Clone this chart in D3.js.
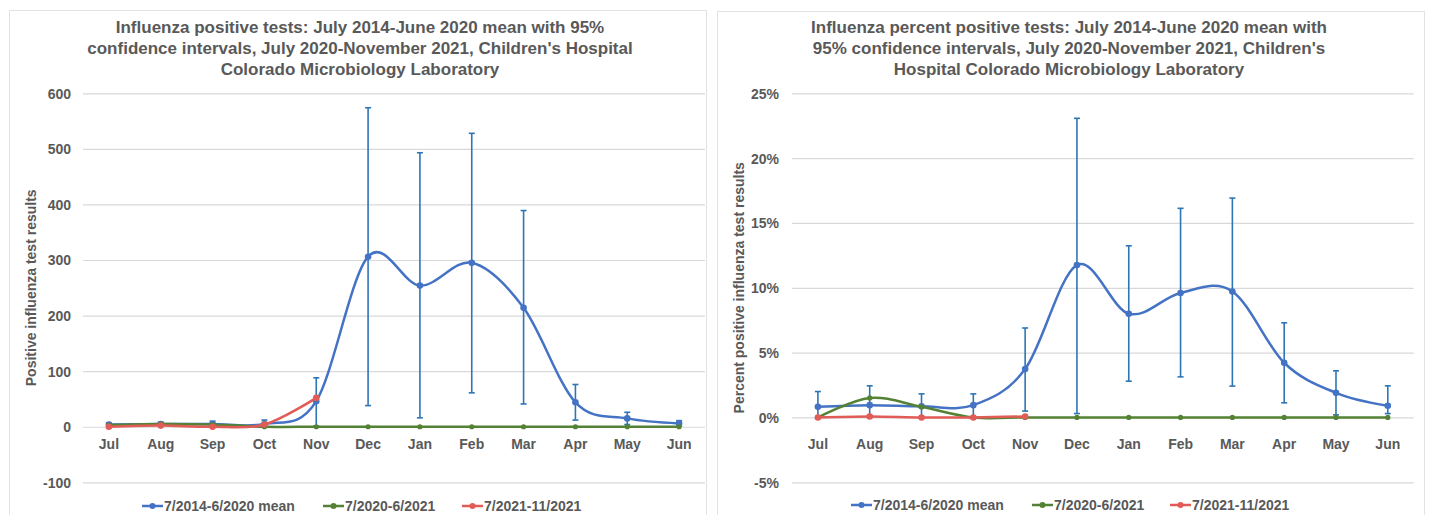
<!DOCTYPE html>
<html>
<head>
<meta charset="utf-8">
<script src="https://cdn.jsdelivr.net/npm/d3@7"></script>
<style>
  html, body { margin: 0; padding: 0; background: #fff; }
  svg { display: block; }
  text { font-family: "Liberation Sans", Arial, sans-serif; font-weight: bold; fill: #595959; }
</style>
</head>
<body>
<svg id="chart" width="1432" height="515"></svg>
<script>
// ---------- DATA ----------
const months = ["Jul","Aug","Sep","Oct","Nov","Dec","Jan","Feb","Mar","Apr","May","Jun"];
const seriesNames = ["7/2014-6/2020 mean","7/2020-6/2021","7/2021-11/2021"];

// Left chart: positive test counts
const countTicks = [-100, 0, 100, 200, 300, 400, 500, 600];
const countMean  = [4, 5, 5, 5, 46, 306, 254, 295, 214, 44, 15, 6];
const countUpper = [7, 8, 10, 12, 88, 574, 493, 528, 389, 76, 26, 11];
const countLower = [1, 2, 0, 0, 1, 38, 16, 61, 41, 12, 4, 1];
const count2020  = [3, 5, 4, 0, 0, 0, 0, 0, 0, 0, 0, 0];
const count2021  = [0, 2, 0, 4, 52];

// Right chart: percent positive (%)
const pctTicks = [-5, 0, 5, 10, 15, 20, 25];
const pctMean  = [0.82, 0.95, 0.87, 0.95, 3.73, 11.75, 8.0, 9.6, 9.72, 4.22, 1.9, 0.9];
const pctUpper = [2.0, 2.44, 1.82, 1.82, 6.9, 23.07, 13.24, 16.13, 16.92, 7.3, 3.6, 2.44];
const pctLower = [0, 0.05, 0, 0, 0.49, 0.3, 2.8, 3.13, 2.42, 1.13, 0.2, 0.3];
const pct2020  = [0, 1.51, 0.82, 0, 0, 0, 0, 0, 0, 0, 0, 0];
const pct2021  = [0, 0.08, 0, 0, 0.08];

// ---------- STYLE ----------
const colors = ["#4472C4", "#548235", "#E15B57"];
const errColor = "#2E75B6";
const gridColor = "#D9D9D9";

const svg = d3.select("#chart");

function drawChart(cfg) {
  const g = svg.append("g");
  // panel border
  g.append("rect")
    .attr("x", cfg.panel[0] + 0.5).attr("y", cfg.panel[1] + 0.5)
    .attr("width", cfg.panel[2] - cfg.panel[0]).attr("height", 600)
    .attr("fill", "none").attr("stroke", "#E3E3E3").attr("stroke-width", 1);

  const x = d3.scaleBand().domain(months).range([cfg.plotX0, cfg.plotX1]);
  const y = d3.scaleLinear().domain(cfg.domain).range([cfg.plotYBottom, cfg.plotYTop]);
  const cx = m => x(m) + x.bandwidth() / 2;

  // title
  const title = g.append("text")
    .attr("text-anchor", "middle")
    .style("font-size", "17px");
  cfg.title.forEach((line, i) => {
    title.append("tspan").attr("x", cfg.titleX).attr("y", 33 + i * 21).text(line);
  });

  // gridlines + y tick labels via axis
  const yAxis = d3.axisLeft(y).tickValues(cfg.ticks).tickSize(0).tickPadding(0)
    .tickFormat(cfg.fmt);
  const ya = g.append("g").attr("transform", `translate(${cfg.tickLabelX},0)`).call(yAxis);
  ya.select(".domain").remove();
  ya.selectAll("text").attr("fill", "#595959").style("font-size", "14px")
    .style("font-family", '"Liberation Sans", Arial, sans-serif').style("font-weight", "bold")
    .attr("dy", "0.35em");

  const grid = d3.axisLeft(y).tickValues(cfg.ticks).tickSize(-(cfg.plotX1 - cfg.plotX0)).tickFormat("");
  const gg = g.append("g").attr("transform", `translate(${cfg.plotX0},0)`).call(grid);
  gg.select(".domain").remove();
  gg.selectAll("line").attr("stroke", gridColor).attr("stroke-width", 1.2);

  // x labels via axis
  const xAxis = d3.axisBottom(x).tickSize(0).tickPadding(0);
  const xa = g.append("g").attr("transform", `translate(0,${cfg.xLabelY})`).call(xAxis);
  xa.select(".domain").remove();
  xa.selectAll("text").attr("fill", "#595959").style("font-size", "14px")
    .style("font-family", '"Liberation Sans", Arial, sans-serif').style("font-weight", "bold")
    .attr("dy", "0");

  // y axis title
  g.append("text")
    .attr("transform", `translate(${cfg.yTitleX},${(cfg.plotYTop + y(cfg.domain[0])) / 2}) rotate(-90)`)
    .attr("text-anchor", "middle").attr("dy", "0.35em")
    .style("font-size", "14px")
    .text(cfg.yTitle);

  const line = d3.line()
    .x((d, i) => cx(months[i]))
    .y(d => y(d))
    .curve(d3.curveCatmullRom.alpha(0));

  // blue mean line
  g.append("path").datum(cfg.mean).attr("d", line)
    .attr("fill", "none").attr("stroke", colors[0]).attr("stroke-width", 2.5);

  // error bars
  const eb = g.append("g");
  months.forEach((m, i) => {
    const px = cx(m);
    eb.append("line").attr("x1", px).attr("x2", px)
      .attr("y1", y(cfg.upper[i])).attr("y2", y(cfg.lower[i]))
      .attr("stroke", errColor).attr("stroke-width", 1.6);
    [cfg.upper[i], cfg.lower[i]].forEach(v => {
      eb.append("line").attr("x1", px - 3).attr("x2", px + 3)
        .attr("y1", y(v)).attr("y2", y(v))
        .attr("stroke", errColor).attr("stroke-width", 1.6);
    });
  });

  g.selectAll(".m0").data(cfg.mean).join("circle")
    .attr("cx", (d, i) => cx(months[i])).attr("cy", d => y(d))
    .attr("r", 3.3).attr("fill", colors[0]);

  // green
  g.append("path").datum(cfg.s2020).attr("d", line)
    .attr("fill", "none").attr("stroke", colors[1]).attr("stroke-width", 2.5);
  g.selectAll(".m1").data(cfg.s2020).join("circle")
    .attr("cx", (d, i) => cx(months[i])).attr("cy", d => y(d))
    .attr("r", 2.6).attr("fill", colors[1]);

  // red
  g.append("path").datum(cfg.s2021).attr("d", line)
    .attr("fill", "none").attr("stroke", colors[2]).attr("stroke-width", 2.5);
  g.selectAll(".m2").data(cfg.s2021).join("circle")
    .attr("cx", (d, i) => cx(months[i])).attr("cy", d => y(d))
    .attr("r", 3.3).attr("fill", colors[2]);

  // legend
  const lg = g.append("g");
  cfg.legendX.forEach((lx, i) => {
    lg.append("line").attr("x1", lx).attr("x2", lx + 21)
      .attr("y1", cfg.legendY).attr("y2", cfg.legendY)
      .attr("stroke", colors[i]).attr("stroke-width", 2.5);
    lg.append("circle").attr("cx", lx + 10.5).attr("cy", cfg.legendY).attr("r", 3).attr("fill", colors[i]);
    lg.append("text").attr("x", lx + 22).attr("y", cfg.legendY).attr("dy", "0.36em")
      .style("font-size", "14px").text(seriesNames[i]);
  });
}

drawChart({
  panel: [9, 10, 706],
  title: ["Influenza positive tests: July 2014-June 2020 mean with 95%",
          "confidence intervals, July 2020-November 2021, Children's Hospital",
          "Colorado Microbiology Laboratory"],
  titleX: 360,
  domain: [-100, 600], ticks: countTicks, fmt: d => String(d),
  plotX0: 83, plotX1: 705, plotYBottom: 482.3, plotYTop: 93.3,
  tickLabelX: 71, xLabelY: 449, yTitleX: 31,
  yTitle: "Positive influenza test results",
  mean: countMean, upper: countUpper, lower: countLower,
  s2020: count2020, s2021: count2021,
  legendX: [142, 323, 462], legendY: 506
});

drawChart({
  panel: [717, 11, 1424],
  title: ["Influenza percent positive tests: July 2014-June 2020 mean with",
          "95% confidence intervals, July 2020-November 2021, Children's",
          "Hospital Colorado Microbiology Laboratory"],
  titleX: 1069,
  domain: [-5, 25], ticks: pctTicks, fmt: d => String(d) + "%",
  plotX0: 792, plotX1: 1413.7, plotYBottom: 482.3, plotYTop: 93.3,
  tickLabelX: 779, xLabelY: 449, yTitleX: 739,
  yTitle: "Percent positive influenza test results",
  mean: pctMean, upper: pctUpper, lower: pctLower,
  s2020: pct2020, s2021: pct2021,
  legendX: [851, 1032, 1170], legendY: 505
});
</script>
</body>
</html>
